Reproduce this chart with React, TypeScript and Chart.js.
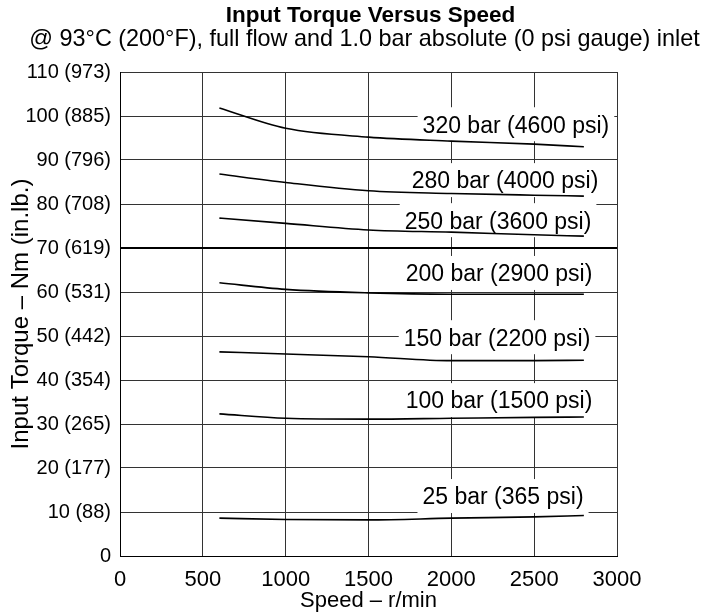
import React, { useEffect, useRef } from 'react';
import { Chart, registerables } from 'chart.js';

Chart.register(...registerables);

// Speed (r/min) sample points along each curve
const speeds = [600, 1000, 1500, 2000, 2500, 2800];

// Input torque (Nm) for each pressure curve
const torque320 = [101.8, 97.2, 95.2, 94.3, 93.6, 93.0];
const torque280 = [86.8, 84.9, 83.0, 82.4, 82.0, 81.8];
const torque250 = [76.8, 75.6, 74.1, 73.6, 73.0, 72.7];
const torque200 = [62.1, 60.6, 59.8, 59.5, 59.5, 59.5];
const torque150 = [46.4, 45.9, 45.3, 44.4, 44.4, 44.5];
const torque100 = [32.3, 31.3, 31.1, 31.3, 31.5, 31.6];
const torque25 = [8.6, 8.3, 8.2, 8.6, 8.9, 9.2];

const seriesNames = [
  '320 bar (4600 psi)',
  '280 bar (4000 psi)',
  '250 bar (3600 psi)',
  '200 bar (2900 psi)',
  '150 bar (2200 psi)',
  '100 bar (1500 psi)',
  '25 bar (365 psi)',
];
const seriesValues = [torque320, torque280, torque250, torque200, torque150, torque100, torque25];

// Where each curve's label sits (speed, torque)
const labelSpeed = [2390, 2324, 2282, 2288, 2276, 2288, 2312];
const labelTorque = [97.9, 85.2, 76.1, 64.1, 49.5, 35.2, 13.4];

// Axis ticks
const yTickValues = [0, 10, 20, 30, 40, 50, 60, 70, 80, 90, 100, 110];
const yTickLabels = [
  '0', '10 (88)', '20 (177)', '30 (265)', '40 (354)', '50 (442)',
  '60 (531)', '70 (619)', '80 (708)', '90 (796)', '100 (885)', '110 (973)',
];

const titleText = 'Input Torque Versus Speed';
const subtitleText = '@ 93°C (200°F), full flow and 1.0 bar absolute (0 psi gauge) inlet';
const xTitle = 'Speed – r/min';
const yTitle = 'Input Torque – Nm (in.lb.)';

const FONT = '"Liberation Sans", Arial, Helvetica, sans-serif';

const curveLabelPlugin = {
  id: 'curveLabels',
  beforeDatasetsDraw(chart: any) {
    const { ctx, scales } = chart;
    ctx.save();
    ctx.font = `23px ${FONT}`;
    ctx.textAlign = 'center';
    ctx.textBaseline = 'middle';
    seriesNames.forEach((name, i) => {
      const px = scales.x.getPixelForValue(labelSpeed[i]);
      const py = scales.y.getPixelForValue(labelTorque[i]);
      const w = ctx.measureText(name).width;
      ctx.fillStyle = '#ffffff';
      ctx.fillRect(px - w / 2 - 5, py - 18, w + 10, 34);
      ctx.fillStyle = '#000000';
      ctx.fillText(name, px, py + 1);
    });
    ctx.restore();
  },
};

const headingPlugin = {
  id: 'headings',
  afterDraw(chart: any) {
    const { ctx, chartArea } = chart;
    const cx = (chartArea.left + chartArea.right) / 2;
    ctx.save();
    ctx.fillStyle = '#000000';
    ctx.textAlign = 'center';
    ctx.textBaseline = 'middle';
    ctx.font = `bold 22.5px ${FONT}`;
    ctx.fillText(titleText, cx + 2, 16);
    ctx.font = `23.4px ${FONT}`;
    ctx.fillText(subtitleText, cx - 4, 40);
    ctx.restore();
  },
};

export default function App() {
  const canvasRef = useRef<HTMLCanvasElement | null>(null);

  useEffect(() => {
    const canvas = canvasRef.current;
    if (!canvas) return;
    const chart = new Chart(canvas, {
      type: 'line',
      data: {
        datasets: seriesNames.map((name, i) => ({
          label: name,
          data: speeds.map((s, j) => ({ x: s, y: seriesValues[i][j] })),
          borderColor: '#000000',
          borderWidth: 1.6,
          pointRadius: 0,
          fill: false,
          cubicInterpolationMode: 'monotone' as const,
        })),
      },
      options: {
        responsive: false,
        animation: false,
        devicePixelRatio: 1,
        layout: { padding: { top: 72, right: 96, left: 0, bottom: 0 } },
        plugins: {
          legend: { display: false },
          tooltip: { enabled: false },
          title: { display: false },
        },
        scales: {
          x: {
            type: 'linear',
            min: 0,
            max: 3000,
            afterFit: (s: any) => { s.height = 57; },
            ticks: {
              stepSize: 500,
              color: '#000',
              font: { family: FONT, size: 22 },
              padding: 11,
              maxRotation: 0,
              callback: (v: any) => String(v),
            },
            grid: { color: '#333', lineWidth: 1, drawTicks: false },
            border: { display: true, color: '#000', width: 1 },
            title: {
              display: true,
              text: xTitle,
              color: '#000',
              font: { family: FONT, size: 22, lineHeight: 1 },
              padding: { top: 0, bottom: 1 },
            },
          },
          y: {
            type: 'linear',
            min: 0,
            max: 110,
            afterFit: (s: any) => { s.width = 120; },
            ticks: {
              stepSize: 10,
              color: '#000',
              font: { family: FONT, size: 20 },
              padding: 9,
              callback: (v: any) => {
                const idx = yTickValues.indexOf(Number(v));
                return idx >= 0 ? yTickLabels[idx] : '';
              },
            },
            grid: {
              color: (c: any) => (c.tick && c.tick.value === 70 ? '#000' : '#333'),
              lineWidth: (c: any) => (c.tick && c.tick.value === 70 ? 2 : 1),
              drawTicks: false,
            },
            border: { display: true, color: '#000', width: 1 },
            title: {
              display: true,
              text: yTitle,
              color: '#000',
              font: { family: FONT, size: 24 },
              padding: { top: 7, bottom: 0 },
            },
          },
        },
      },
      plugins: [curveLabelPlugin, headingPlugin],
    });
    return () => chart.destroy();
  }, []);

  return (
    <div style={{ position: 'absolute', left: 0, top: 0, width: 713, height: 613, background: '#fff' }}>
      <canvas ref={canvasRef} width={713} height={613} style={{ width: 713, height: 613, display: 'block' }} />
    </div>
  );
}
